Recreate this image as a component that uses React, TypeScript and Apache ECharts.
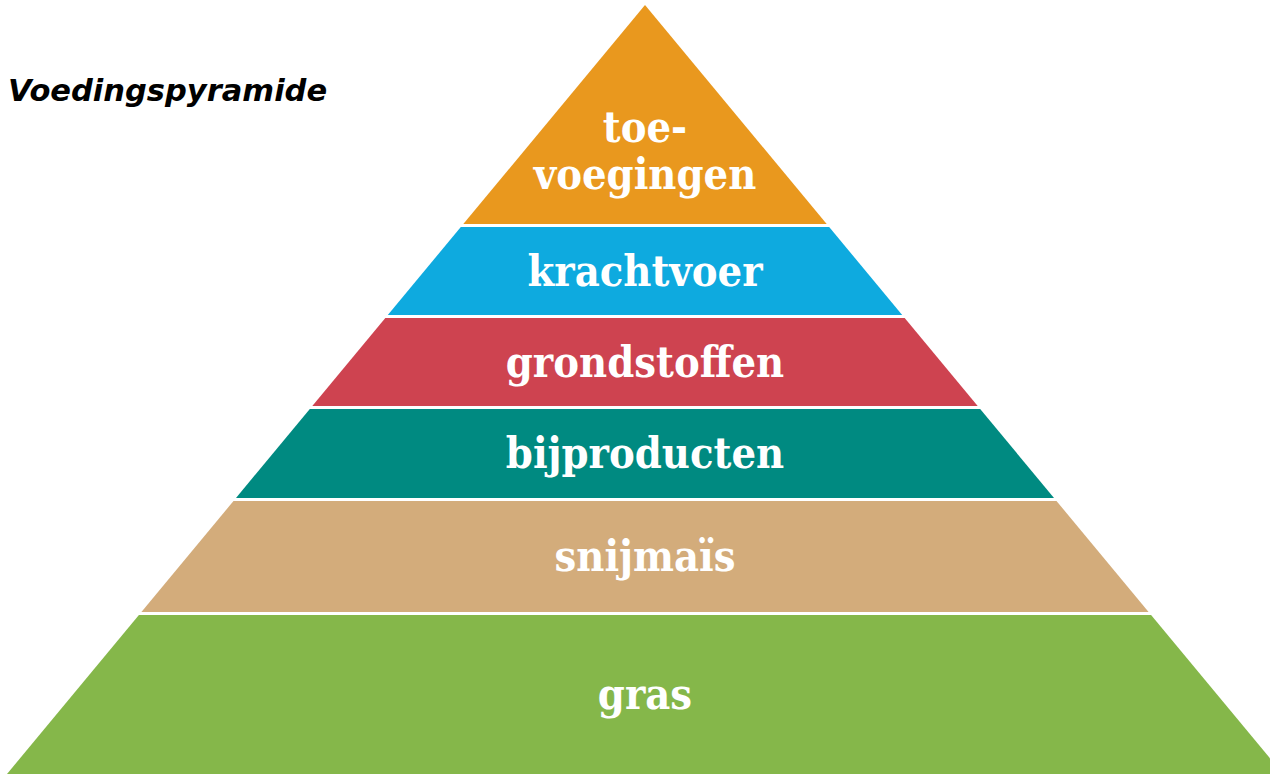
import React, { useEffect, useRef } from "react";
import * as echarts from "echarts";

// Layers from bottom to top
const layerNames = ["gras", "snijmaïs", "bijproducten", "grondstoffen", "krachtvoer", "toe-\nvoegingen"];
const layerColors = ["#85B74A", "#D3AC7B", "#008A81", "#CE4350", "#0EAADF", "#E9981E"];
// Boundaries between layers, as height above the pyramid base (apex = last value)
const layerBounds = [0, 160.5, 274.5, 366.5, 457.5, 548.5, 769];

const titleText = "Voedingspyramide";

const BASE_HALF = 638; // half-width of the pyramid base (axis units)
const APEX = 769; // height of the apex (axis units)
const GAP = 3;

export default function App() {
  const ref = useRef<HTMLDivElement>(null);
  useEffect(() => {
    if (!ref.current) return;
    const chart = echarts.init(ref.current, null, { renderer: "svg" });
    const halfW = (h: number) => BASE_HALF * (1 - h / APEX);
    const n = layerNames.length;
    chart.setOption({
      animation: false,
      grid: { left: 0, right: 0, top: 0, bottom: 0 },
      xAxis: { type: "value", min: -645, max: 625, show: false },
      yAxis: { type: "value", min: 0, max: 774, show: false },
      graphic: [
        {
          type: "text",
          left: 8,
          top: 75,
          style: {
            text: titleText,
            fill: "#000",
            font: "italic bold 30.5px 'DejaVu Sans', Verdana, sans-serif",
          },
        },
      ],
      series: [
        {
          type: "custom",
          coordinateSystem: "cartesian2d",
          data: layerNames.map((name, i) => [i, layerBounds[i], layerBounds[i + 1]]),
          renderItem: (params: any, api: any) => {
            const i = api.value(0);
            const lo = api.value(1) + (i > 0 ? GAP / 2 : 0);
            const hi = api.value(2) - (i < n - 1 ? GAP / 2 : 0);
            const pts = [
              api.coord([-halfW(lo), lo]),
              api.coord([halfW(lo), lo]),
              api.coord([halfW(hi), hi]),
              api.coord([-halfW(hi), hi]),
            ];
            const a = halfW(hi);
            const h = hi - lo;
            const labelH = a < 1 ? lo + h / 3 : lo + h / 2;
            const c = api.coord([0, labelH]);
            return {
              type: "group",
              children: [
                {
                  type: "polygon",
                  shape: { points: pts },
                  style: { fill: layerColors[i] },
                },
                {
                  type: "text",
                  x: c[0],
                  y: c[1] - 0.5,
                  style: {
                    text: layerNames[i],
                    fill: "#fff",
                    font: "bold 43px 'DejaVu Serif Condensed', 'DejaVu Serif', serif",
                    align: "center",
                    verticalAlign: "middle",
                    lineHeight: 47,
                  },
                },
              ],
            };
          },
        },
      ],
    });
    return () => chart.dispose();
  }, []);
  return (
    <div
      ref={ref}
      style={{ position: "absolute", left: 0, top: 0, width: 1270, height: 774 }}
    />
  );
}
